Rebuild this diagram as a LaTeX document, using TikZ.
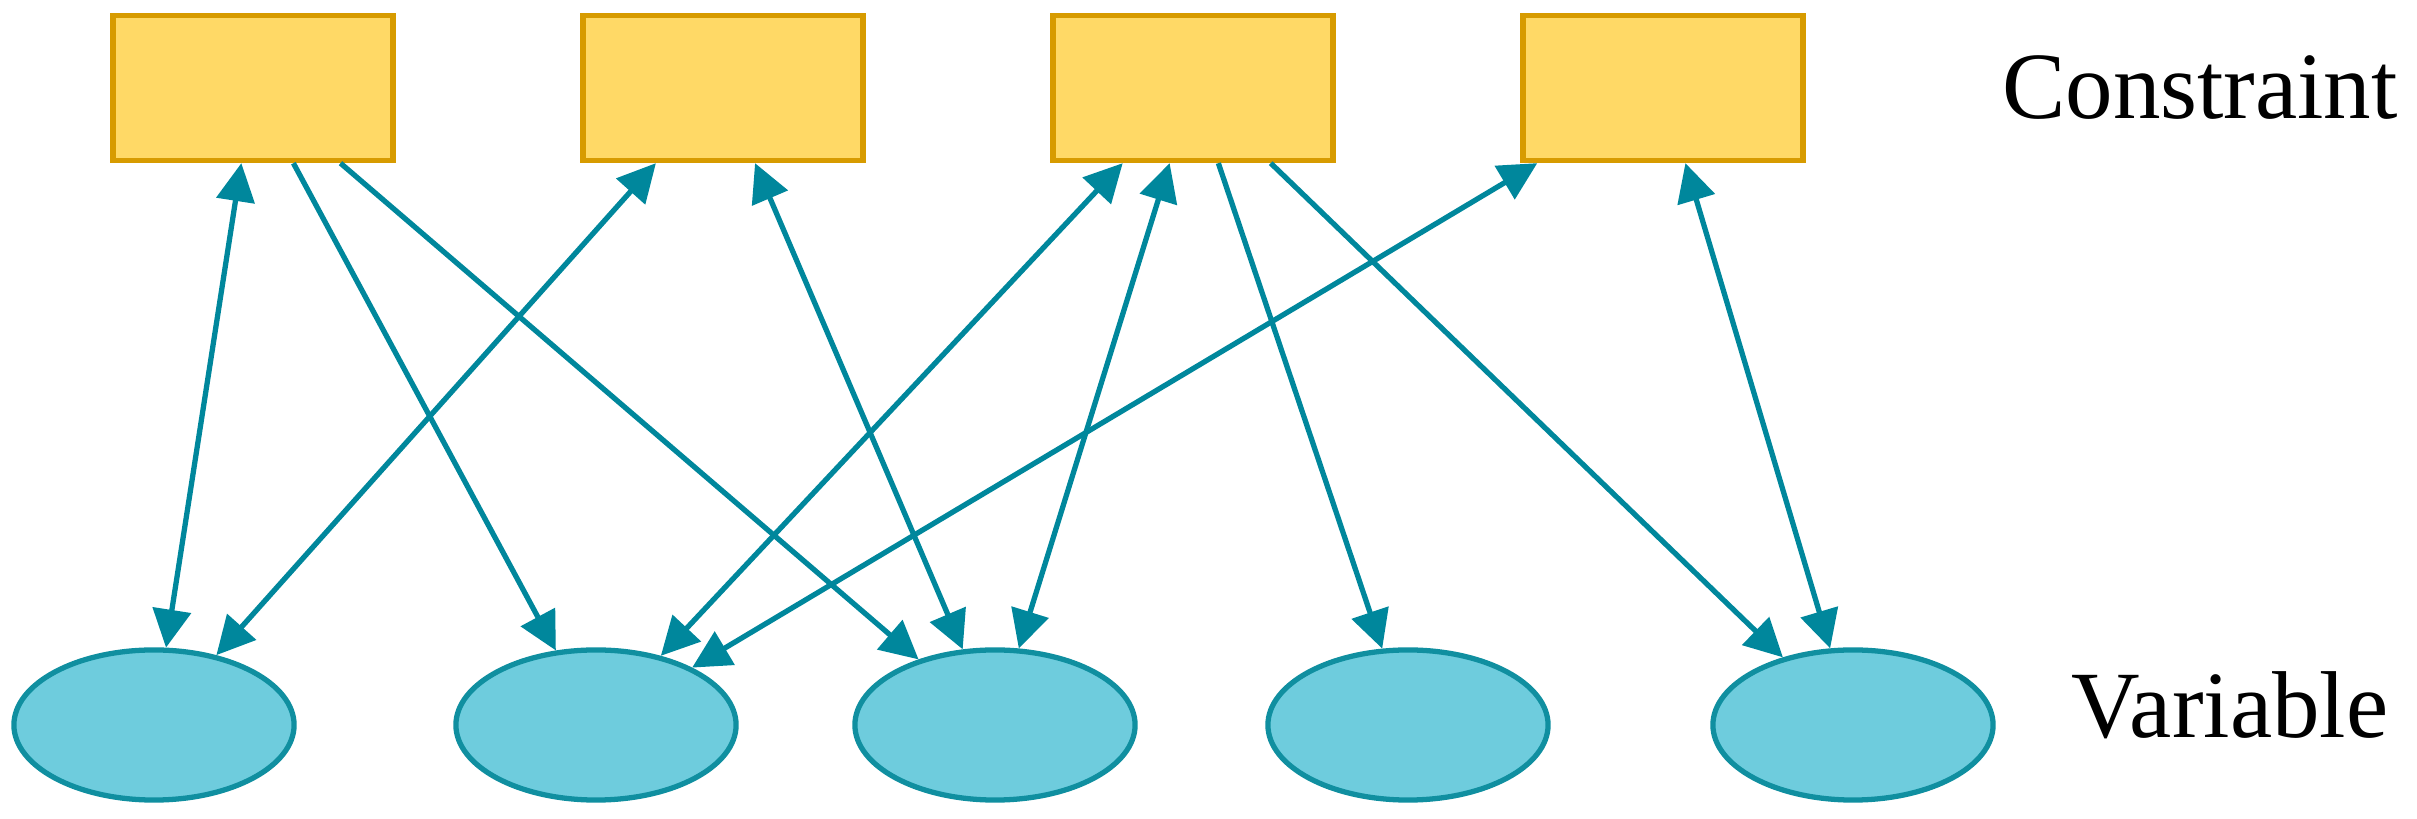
\documentclass[tikz,border=0pt]{standalone}
\usepackage{fontspec}
\setmainfont{Liberation Serif}
\usetikzlibrary{arrows.meta,shapes.geometric}
\definecolor{rfill}{HTML}{FFD966}
\definecolor{rdraw}{HTML}{D79B00}
\definecolor{efill}{HTML}{6ECCDD}
\definecolor{edraw}{HTML}{108FA0}
\definecolor{lcol}{HTML}{00879C}
\begin{document}
\begin{tikzpicture}[x=0.01cm,y=-0.01cm,
  cbox/.style={draw=rdraw,fill=rfill,line width=1.5pt,minimum width=2.8cm,minimum height=1.45cm,inner sep=0pt},
  vell/.style={ellipse,draw=edraw,fill=efill,line width=1.5pt,minimum width=2.8cm,minimum height=1.5cm,inner sep=0pt},
  lnk/.style={draw=lcol,line width=1.5pt,-{Triangle[length=0.38cm,width=0.38cm]}},
  blnk/.style={lnk,{Triangle[length=0.38cm,width=0.38cm]}-{Triangle[length=0.38cm,width=0.38cm]}},
  lbl/.style={font=\fontsize{27}{32}\selectfont}]
\useasboundingbox (0,0) rectangle (2417,819);
\node[cbox] (r1) at (253,88) {};
\node[cbox] (r2) at (723,88) {};
\node[cbox] (r3) at (1193,88) {};
\node[cbox] (r4) at (1663,88) {};
\node[vell] (e1) at (154,725) {};
\node[vell] (e2) at (596,725) {};
\node[vell] (e3) at (995,725) {};
\node[vell] (e4) at (1408,725) {};
\node[vell] (e5) at (1853,725) {};
\node[lbl] (tc) at (2200,88) {Constraint};
\node[lbl] (tv) at (2230,705) {Variable};
\draw[blnk] (r1) -- (e1);
\draw[lnk] (r1) -- (e2);
\draw[lnk] (r1) -- (e3);
\draw[blnk] (r2) -- (e1);
\draw[blnk] (r2) -- (e3);
\draw[blnk] (r3) -- (e2);
\draw[blnk] (r3) -- (e3);
\draw[lnk] (r3) -- (e4);
\draw[lnk] (r3) -- (e5);
\draw[blnk] (r4) -- (e2);
\draw[blnk] (r4) -- (e5);
\end{tikzpicture}
\end{document}
